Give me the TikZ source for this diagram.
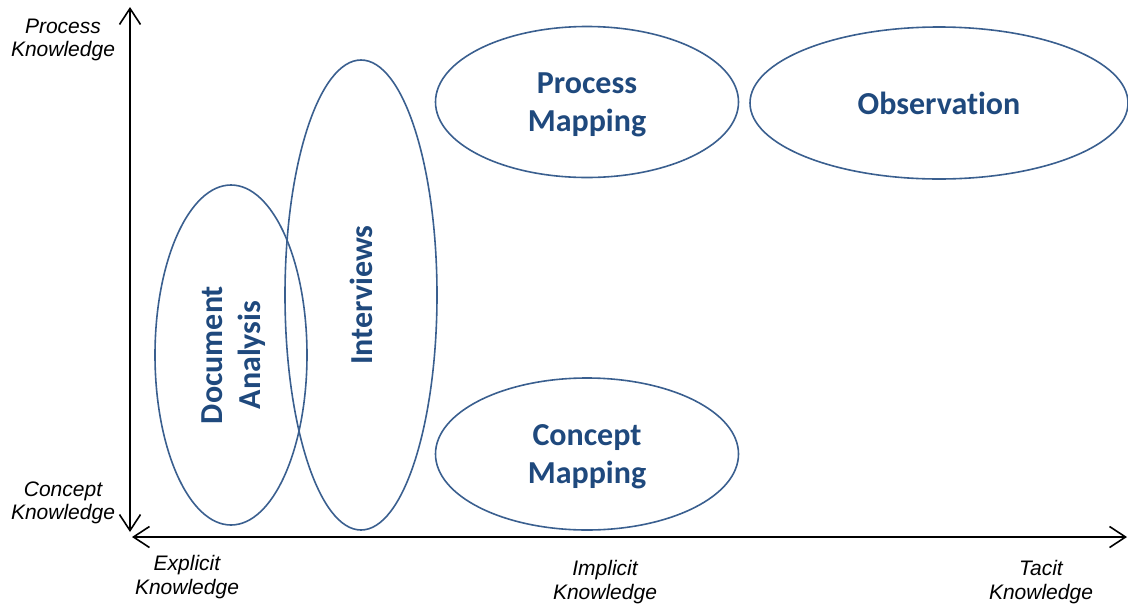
\documentclass[tikz,border=0pt]{standalone}
\usepackage{fontspec}
\usepackage{tikz}
\usetikzlibrary{shapes.geometric,arrows.meta}
\newfontfamily\methodfont[Ligatures=NoCommon]{Carlito}
\newfontfamily\axisfont{Liberation Sans}
\definecolor{methodtext}{HTML}{1F497D}
\definecolor{methodline}{HTML}{3A5F8F}

\begin{document}
\begin{tikzpicture}[x=1pt, y=-1pt,
    method/.style ={ellipse, draw=methodline, line width=1.6pt, inner sep=0pt, align=center, text=methodtext, font=\methodfont\bfseries\fontsize{32}{38}\selectfont},
    twoline/.style ={text depth=0pt},
    axislabel/.style ={align=center, font=\axisfont\itshape\fontsize{21}{23.5}\selectfont},
    axis/.style ={line width=1.6pt, {Straight Barb[length=16pt,width=21pt]}-{Straight Barb[length=16pt,width=21pt]}}]
   \useasboundingbox (0,0) rectangle (1128,606);
   \node[method, twoline, minimum width=340pt, minimum height=152pt, rotate=90] (docs) at (231,355) {Document\\Analysis};
   \node[method, minimum width=470pt, minimum height=152pt, rotate=90] (inter) at (361,295) {Interviews};
   \node[method, twoline, minimum width=303pt, minimum height=151pt] (procmap) at (587,102) {Process\\Mapping};
   \node[method, minimum width=378pt, minimum height=152pt] (obs) at (939,103) {Observation};
   \node[method, twoline, minimum width=303pt, minimum height=152pt] (concmap) at (587,454) {Concept\\Mapping};

   \coordinate (ytop) at (130,7);
   \coordinate (ybot) at (130,532);
   \coordinate (xleft) at (132,537);
   \coordinate (xright) at (1127,537);

   \node[axislabel] (proc) at (63,40) {Process\\Knowledge};
   \node[axislabel] (conc) at (63,503) {Concept\\Knowledge};
   \node[axislabel] (expl) at (187,577) {Explicit\\Knowledge};
   \node[axislabel] (impl) at (605,582) {Implicit\\Knowledge};
   \node[axislabel] (tacit) at (1041,582) {Tacit\\Knowledge};


   \draw[axis] (ybot) -- (ytop);
   \draw[axis] (xleft) -- (xright);
 \end{tikzpicture}
\end{document}
